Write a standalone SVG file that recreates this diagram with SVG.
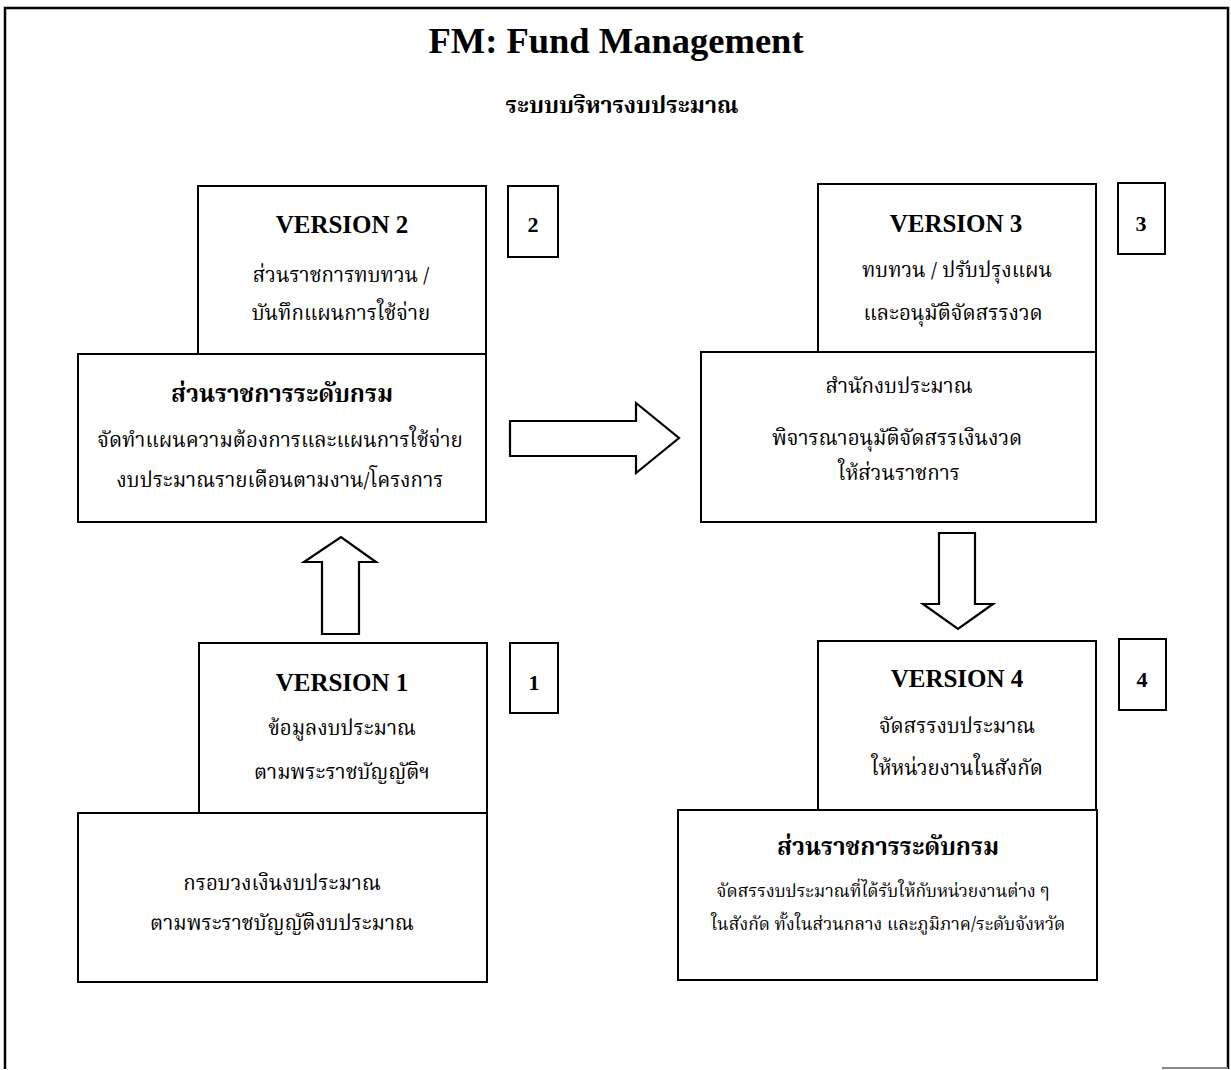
<svg xmlns="http://www.w3.org/2000/svg" width="1231" height="1070" viewBox="0 0 1231 1070">
<style>
.box{fill:#fff;stroke:#000;stroke-width:2}
.arrow{fill:#fff;stroke:#000;stroke-width:2.2;stroke-linejoin:miter}
.frame{fill:none;stroke:#000;stroke-width:2.5}
.en{font-family:'Liberation Serif','Times New Roman',serif;font-weight:bold;fill:#000;text-anchor:middle}
.th{font-family:'Noto Serif Thai','Noto Sans Thai','TH Sarabun New',Loma,'Liberation Serif',serif;fill:#000;text-anchor:middle;font-size:20.5px}
.thb{font-weight:bold;font-size:24px}
.ths{font-size:17.5px}
.sub{font-weight:bold;font-size:23px}
.ver{font-size:25px}
.num{font-size:22px}
</style>
<rect x="0" y="0" width="1231" height="1070" fill="#fff"/>
<g id="frame">
<path class="frame" d="M5,1069 V8 H1228 V1069"/>
<line x1="1162" y1="1068" x2="1228" y2="1068" stroke="#888" stroke-width="2"/>
</g>
<g id="title">
<text class="en" x="616" y="53" font-size="36.5">FM: Fund Management</text>
<text class="th sub" x="622" y="113">ระบบบริหารงบประมาณ</text>
</g>
<g id="connectors">
<polygon class="arrow" points="322,634 322,562 304,562 341,537 376,562 359,562 359,634"/>
<polygon class="arrow" points="510,421 636,421 636,403 679,438 636,473 636,456 510,456"/>
<polygon class="arrow" points="939,533 975,533 975,604 993,604 958,629 923,604 939,604"/>
</g>
<g id="node-v2">
<rect class="box" x="198" y="186" width="288" height="168"/>
<text class="en ver" x="342" y="233">VERSION 2</text>
<text class="th" x="341" y="282">ส่วนราชการทบทวน /</text>
<text class="th" x="341" y="320">บันทึกแผนการใช้จ่าย</text>
</g>
<g id="node-dept1">
<rect class="box" x="78" y="354" width="408" height="168"/>
<text class="th thb" x="282" y="402">ส่วนราชการระดับกรม</text>
<text class="th" x="280" y="447">จัดทำแผนความต้องการและแผนการใช้จ่าย</text>
<text class="th" x="280" y="487">งบประมาณรายเดือนตามงาน/โครงการ</text>
</g>
<g id="badge-2">
<rect class="box" x="508" y="186" width="50" height="71"/>
<text class="en num" x="533" y="232">2</text>
</g>
<g id="node-v3">
<rect class="box" x="818" y="184" width="278" height="168"/>
<text class="en ver" x="956" y="232">VERSION 3</text>
<text class="th" x="957" y="277">ทบทวน / ปรับปรุงแผน</text>
<text class="th" x="953" y="320">และอนุมัติจัดสรรงวด</text>
</g>
<g id="node-budget">
<rect class="box" x="701" y="352" width="395" height="170"/>
<text class="th" x="899" y="393">สำนักงบประมาณ</text>
<text class="th" x="897" y="445">พิจารณาอนุมัติจัดสรรเงินงวด</text>
<text class="th" x="899" y="480">ให้ส่วนราชการ</text>
</g>
<g id="badge-3">
<rect class="box" x="1118" y="183" width="47" height="71"/>
<text class="en num" x="1141" y="231">3</text>
</g>
<g id="node-v1">
<rect class="box" x="199" y="643" width="288" height="170"/>
<text class="en ver" x="342" y="691">VERSION 1</text>
<text class="th" x="342" y="735">ข้อมูลงบประมาณ</text>
<text class="th" x="342" y="779">ตามพระราชบัญญัติฯ</text>
</g>
<g id="node-frame">
<rect class="box" x="78" y="813" width="409" height="169"/>
<text class="th" x="282" y="890">กรอบวงเงินงบประมาณ</text>
<text class="th" x="282" y="930">ตามพระราชบัญญัติงบประมาณ</text>
</g>
<g id="badge-1">
<rect class="box" x="510" y="643" width="48" height="70"/>
<text class="en num" x="534" y="690">1</text>
</g>
<g id="node-v4">
<rect class="box" x="818" y="641" width="278" height="169"/>
<text class="en ver" x="957" y="687">VERSION 4</text>
<text class="th" x="957" y="733">จัดสรรงบประมาณ</text>
<text class="th" x="957" y="775">ให้หน่วยงานในสังกัด</text>
</g>
<g id="node-dept2">
<rect class="box" x="678" y="810" width="419" height="170"/>
<text class="th thb" x="888" y="855">ส่วนราชการระดับกรม</text>
<text class="th ths" x="883" y="897">จัดสรรงบประมาณที่ได้รับให้กับหน่วยงานต่าง ๆ</text>
<text class="th ths" x="888" y="930">ในสังกัด ทั้งในส่วนกลาง และภูมิภาค/ระดับจังหวัด</text>
</g>
<g id="badge-4">
<rect class="box" x="1119" y="639" width="47" height="71"/>
<text class="en num" x="1142" y="687">4</text>
</g>
</svg>
